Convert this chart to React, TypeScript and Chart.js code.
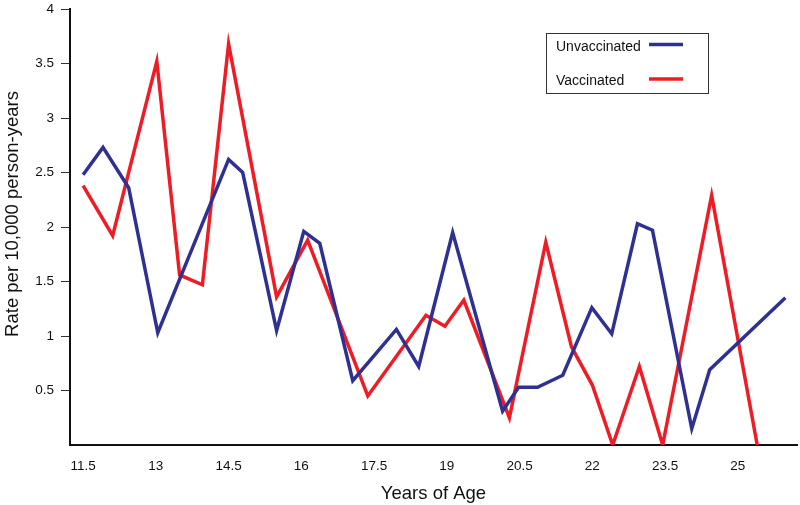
import React, { useEffect, useRef } from "react";
import { Chart, registerables } from "chart.js";

Chart.register(...registerables);

const unvaccAges = [11.5, 11.91, 12.44, 13.04, 14.5, 14.79, 15.49, 16.05, 16.38, 17.06, 17.96, 18.42, 19.12, 20.15, 20.48, 20.87, 21.39, 21.99, 22.4, 22.93, 23.24, 24.05, 24.42, 25.98];
const unvaccRates = [2.48, 2.73, 2.36, 1.03, 2.62, 2.5, 1.05, 1.96, 1.85, 0.59, 1.06, 0.72, 1.95, 0.31, 0.53, 0.53, 0.64, 1.26, 1.02, 2.03, 1.97, 0.15, 0.69, 1.35];

const vaccAges = [11.5, 12.11, 13.02, 13.49, 13.96, 14.5, 15.49, 16.13, 17.37, 18.57, 18.96, 19.35, 20.29, 21.04, 21.57, 22.0, 22.42, 22.97, 23.45, 24.46, 25.4];
const vaccRates = [2.38, 1.92, 3.52, 1.56, 1.47, 3.68, 1.36, 1.88, 0.45, 1.19, 1.09, 1.33, 0.25, 1.86, 0.9, 0.55, 0.0, 0.72, 0.0, 2.29, 0.0];

const xTickValues = [11.5, 13, 14.5, 16, 17.5, 19, 20.5, 22, 23.5, 25];
const yTickValues = [0.5, 1, 1.5, 2, 2.5, 3, 3.5, 4];

const BLUE = "#2e3192";
const RED = "#ee1c25";
const FONT = "'Liberation Sans', Arial, sans-serif";

const legendPlugin = {
  id: "customLegend",
  afterDraw(chart: any) {
    const ctx = chart.ctx;
    ctx.save();
    // y-axis title
    ctx.save();
    ctx.translate(13, 214);
    ctx.rotate(-Math.PI / 2);
    ctx.font = "18.5px " + FONT;
    ctx.fillStyle = "#111";
    ctx.textAlign = "center";
    ctx.textBaseline = "middle";
    ctx.fillText("Rate per 10,000 person-years", 0, 0);
    ctx.restore();
    // legend box
    const x0 = 546, y0 = 33, w = 162, h = 60;
    ctx.strokeStyle = "#333";
    ctx.lineWidth = 1;
    ctx.strokeRect(x0 + 0.5, y0 + 0.5, w, h);
    ctx.font = "14px " + FONT;
    ctx.fillStyle = "#111";
    ctx.textBaseline = "middle";
    ctx.fillText("Unvaccinated", 556, 47);
    ctx.fillText("Vaccinated", 556, 81);
    ctx.lineWidth = 3.5;
    ctx.strokeStyle = BLUE;
    ctx.beginPath();
    ctx.moveTo(649, 44.5);
    ctx.lineTo(683, 44.5);
    ctx.stroke();
    ctx.strokeStyle = RED;
    ctx.beginPath();
    ctx.moveTo(649, 79);
    ctx.lineTo(683, 79);
    ctx.stroke();
    ctx.restore();
  },
};

export default function App() {
  const ref = useRef<HTMLCanvasElement | null>(null);
  useEffect(() => {
    document.body.style.margin = "0";
    if (!ref.current) return;
    const chart = new Chart(ref.current, {
      type: "scatter",
      data: {
        datasets: [
          {
            label: "Unvaccinated",
            data: unvaccAges.map((x, i) => ({ x, y: unvaccRates[i] })),
            showLine: true,
            borderColor: BLUE,
            backgroundColor: BLUE,
            borderWidth: 3.5,
            pointRadius: 0,
            tension: 0,
          },
          {
            label: "Vaccinated",
            data: vaccAges.map((x, i) => ({ x, y: vaccRates[i] })),
            showLine: true,
            borderColor: RED,
            backgroundColor: RED,
            borderWidth: 3.5,
            pointRadius: 0,
            tension: 0,
          },
        ],
      },
      options: {
        animation: false,
        responsive: false,
        layout: { padding: { top: 9, right: 3, left: 0, bottom: 0 } },
        plugins: { legend: { display: false }, tooltip: { enabled: false } },
        scales: {
          x: {
            type: "linear",
            min: 11.23,
            max: 26.22,
            afterBuildTicks: (s: any) => {
              s.ticks = xTickValues.map((v) => ({ value: v }));
            },
            afterFit: (s: any) => {
              s.height = 60;
              s.paddingLeft = 0;
              s.paddingRight = 0;
            },
            grid: { display: false },
            border: { display: true, color: "#111", width: 2 },
            ticks: {
              color: "#111",
              font: { family: FONT, size: 13.5 },
              padding: 5,
              maxRotation: 0,
              autoSkip: false,
              callback: (v: any) => String(v),
            },
            title: {
              display: true,
              text: "Years of Age",
              color: "#111",
              font: { family: FONT, size: 18.5 },
              padding: { top: 2, bottom: 0 },
            },
          },
          y: {
            type: "linear",
            min: 0,
            max: 4,
            afterBuildTicks: (s: any) => {
              s.ticks = yTickValues.map((v) => ({ value: v }));
            },
            afterFit: (s: any) => {
              s.width = 70;
              s.paddingTop = 0;
              s.paddingBottom = 0;
            },
            grid: {
              display: true,
              drawOnChartArea: false,
              drawTicks: true,
              tickLength: 9,
              color: "#333",
              lineWidth: 1,
            },
            border: { display: true, color: "#111", width: 2 },
            ticks: {
              color: "#111",
              font: { family: FONT, size: 13.5 },
              padding: 7,
              callback: (v: any) => String(v),
            },
            title: { display: false },
          },
        },
      },
      plugins: [legendPlugin],
    } as any);
    return () => chart.destroy();
  }, []);
  return (
    <div style={{ width: 800, height: 505 }}>
      <canvas ref={ref} width={800} height={505} style={{ display: "block" }} />
    </div>
  );
}
